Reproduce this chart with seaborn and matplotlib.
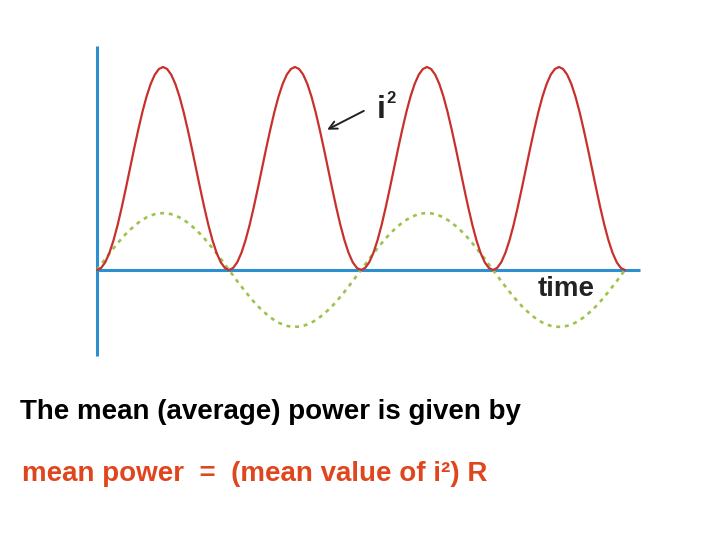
import numpy as np
import pandas as pd
import matplotlib
matplotlib.use("Agg")
import matplotlib.pyplot as plt
import seaborn as sns

# time in units of half-periods of the current (one hump of i^2), 32 samples per hump
time = np.linspace(0, 4, 129)

# i^2 (peak = 1)
i_squared = [
    0, .010, .038, .084, .146, .222, .309, .403, .5, .598, .691, .778, .854, .916, .962, .990,
    1, .990, .962, .916, .854, .778, .691, .598, .5, .403, .309, .222, .146, .084, .038, .010,
    0, .010, .038, .084, .146, .222, .309, .403, .5, .598, .691, .778, .854, .916, .962, .990,
    1, .990, .962, .916, .854, .778, .691, .598, .5, .403, .309, .222, .146, .084, .038, .010,
    0, .010, .038, .084, .146, .222, .309, .403, .5, .598, .691, .778, .854, .916, .962, .990,
    1, .990, .962, .916, .854, .778, .691, .598, .5, .403, .309, .222, .146, .084, .038, .010,
    0, .010, .038, .084, .146, .222, .309, .403, .5, .598, .691, .778, .854, .916, .962, .990,
    1, .990, .962, .916, .854, .778, .691, .598, .5, .403, .309, .222, .146, .084, .038, .010,
    0]

# current i (dotted green), same scale
current = [
    0, .027, .055, .081, .107, .132, .156, .178, .198, .216, .233, .247, .259, .268, .275, .279,
    .28, .279, .275, .268, .259, .247, .233, .216, .198, .178, .156, .132, .107, .081, .055, .027,
    0, -.027, -.055, -.081, -.107, -.132, -.156, -.178, -.198, -.216, -.233, -.247, -.259, -.268, -.275, -.279,
    -.28, -.279, -.275, -.268, -.259, -.247, -.233, -.216, -.198, -.178, -.156, -.132, -.107, -.081, -.055, -.027,
    0, .027, .055, .081, .107, .132, .156, .178, .198, .216, .233, .247, .259, .268, .275, .279,
    .28, .279, .275, .268, .259, .247, .233, .216, .198, .178, .156, .132, .107, .081, .055, .027,
    0, -.027, -.055, -.081, -.107, -.132, -.156, -.178, -.198, -.216, -.233, -.247, -.259, -.268, -.275, -.279,
    -.28, -.279, -.275, -.268, -.259, -.247, -.233, -.216, -.198, -.178, -.156, -.132, -.107, -.081, -.055, -.027,
    0]

df = pd.DataFrame({"time": time, "i2": i_squared, "i": current})

sns.set_style("white")
plt.rcParams['font.family'] = ['Liberation Sans', 'DejaVu Sans']

fig = plt.figure(figsize=(7.2, 5.4), dpi=100)
ax = fig.add_axes([0, 0, 1, 1])
ax.set_xlim(-0.735, 4.720)
ax.set_ylim(-1.330, 1.330)
ax.axis("off")

blue = "#2b8fd0"
red = "#c8302c"
green = "#9cc44c"
orange = "#e0461e"
dark = "#222222"

# axis lines
ax.plot([0, 0], [-0.424, 1.103], color=blue, lw=2.2, solid_capstyle="butt")
ax.plot([0, 4.114], [0, 0], color=blue, lw=2.2, solid_capstyle="butt")

sns.lineplot(data=df, x="time", y="i", ax=ax, color=green, lw=1.9,
             linestyle=(0, (1.5, 1.8)))
sns.lineplot(data=df, x="time", y="i2", ax=ax, color=red, lw=1.6)

ax.annotate("", xy=(1.725, 0.685), xytext=(2.04, 0.79),
            arrowprops=dict(arrowstyle="->", color=dark, lw=1.4, mutation_scale=14))
ax.text(2.12, 0.749, "i", fontsize=23, fontweight="bold", color=dark,
        ha="left", va="baseline")
ax.text(2.19, 0.822, "2", fontsize=12, fontweight="bold", color=dark,
        ha="left", va="baseline")
ax.text(3.34, -0.094, "time", fontsize=20, fontweight="bold", color=dark,
        ha="left", va="center")

fig.text(20 / 720, 1 - 412 / 540, "The mean (average) power is given by",
         fontsize=20, fontweight="bold", color="black", ha="left", va="center")
fig.text(22 / 720, 1 - 474 / 540, "mean power  =  (mean value of i²) R",
         fontsize=20, fontweight="bold", color=orange, ha="left", va="center")

fig.savefig("out.png", dpi=100, facecolor="white")
